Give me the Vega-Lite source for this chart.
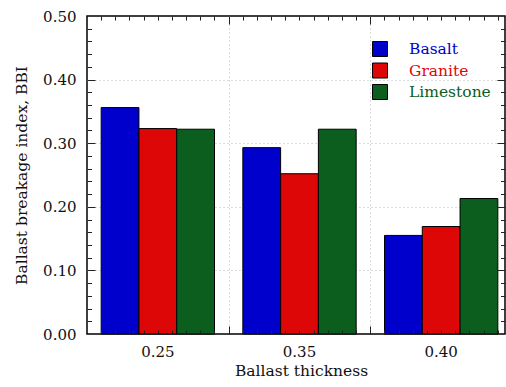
{
  "$schema": "https://vega.github.io/schema/vega-lite/v6.json",
  "width": 418,
  "height": 318,
  "autosize": "none",
  "padding": {"left": 87, "top": 16, "right": 1, "bottom": 53},
  "config": {
    "view": {"stroke": "#000", "strokeWidth": 1.5},
    "font": "DejaVu Serif, Liberation Serif, serif",
    "axis": {
      "labelFont": "DejaVu Serif, Liberation Serif, serif",
      "titleFont": "DejaVu Serif, Liberation Serif, serif",
      "labelColor": "#111",
      "titleColor": "#111",
      "titleFontWeight": "normal",
      "tickColor": "#222",
      "tickWidth": 1
    },
    "legend": {"labelFont": "DejaVu Serif, Liberation Serif, serif"}
  },
  "data": {
    "values": [
      {"t": "0.25", "m": "Basalt", "v": 0.356},
      {"t": "0.25", "m": "Granite", "v": 0.323},
      {"t": "0.25", "m": "Limestone", "v": 0.322},
      {"t": "0.35", "m": "Basalt", "v": 0.293},
      {"t": "0.35", "m": "Granite", "v": 0.252},
      {"t": "0.35", "m": "Limestone", "v": 0.322},
      {"t": "0.40", "m": "Basalt", "v": 0.155},
      {"t": "0.40", "m": "Granite", "v": 0.169},
      {"t": "0.40", "m": "Limestone", "v": 0.213}
    ]
  },
  "resolve": {
    "scale": {"x": "independent", "y": "shared"},
    "axis": {"x": "independent", "y": "independent"}
  },
  "layer": [
    {
      "mark": {"type": "bar", "stroke": "#000", "strokeWidth": 1},
      "encoding": {
        "x": {
          "field": "t", "type": "nominal",
          "scale": {"range": [0, 425], "paddingInner": 0, "paddingOuter": 0},
          "axis": {
            "orient": "bottom", "title": "Ballast thickness", "labelAngle": 0,
            "ticks": false, "domain": false, "grid": false,
            "labelFontSize": 15, "labelPadding": 10, "titleFontSize": 15.5,
            "titlePadding": 4, "titleX": 214
          }
        },
        "xOffset": {"field": "m", "type": "nominal", "scale": {"paddingInner": 0, "paddingOuter": 0.375}},
        "y": {
          "field": "v", "type": "quantitative",
          "scale": {"domain": [0, 0.5], "nice": false, "zero": true},
          "axis": {
            "orient": "left", "title": "Ballast breakage index, BBI",
            "values": [0, 0.1, 0.2, 0.3, 0.4, 0.5], "format": ".2f",
            "ticks": false, "domain": false, "grid": true,
            "gridColor": "#b8b8b8", "gridDash": [1, 3], "gridWidth": 1,
            "gridOpacity": {"condition": {"test": "datum.value > 0.001 && datum.value < 0.499", "value": 1}, "value": 0},
            "labelFontSize": 15, "labelPadding": 11, "titleFontSize": 15.5, "titlePadding": 13
          }
        },
        "color": {
          "field": "m", "type": "nominal",
          "scale": {"domain": ["Basalt", "Granite", "Limestone"], "range": ["#0000cc", "#dd0707", "#0b5e1d"]},
          "legend": {
            "title": null, "orient": "none", "legendX": 285, "legendY": 25, "padding": 0,
            "symbolType": "square", "symbolSize": 225, "symbolStrokeColor": "#000", "symbolStrokeWidth": 1,
            "symbolOpacity": 1, "labelFont": "DejaVu Serif, Liberation Serif, serif", "labelFontSize": 15.5, "labelOffset": 21,
            "rowPadding": 1.5, "labelColor": {"expr": "scale('color', datum.value)"}
          }
        }
      }
    },
    {
      "data": {"values": [{}]},
      "mark": {"type": "point", "opacity": 0},
      "encoding": {
        "x": {
          "datum": 0, "type": "quantitative",
          "scale": {"domain": [0, 2.9506], "nice": false, "zero": false},
          "axis": {"orient": "bottom", "title": null, "labels": false, "domain": false, "grid": false, "tickSize": -4, "zindex": 1,
            "values": [0.1,0.2,0.3,0.4,0.5,0.6,0.7,0.8,0.9,1.1,1.2,1.3,1.4,1.5,1.6,1.7,1.8,1.9,2.1,2.2,2.3,2.4,2.5,2.6,2.7,2.8,2.9]}
        },
        "y": {
          "datum": 0, "type": "quantitative",
          "scale": {"domain": [0, 0.5], "nice": false, "zero": true},
          "axis": {"orient": "left", "title": null, "labels": false, "domain": false, "grid": false, "tickSize": -8, "zindex": 1,
            "values": [0.1, 0.2, 0.3, 0.4]}
        }
      }
    },
    {
      "data": {"values": [{}]},
      "mark": {"type": "point", "opacity": 0},
      "encoding": {
        "x": {
          "datum": 0, "type": "quantitative",
          "scale": {"domain": [0, 2.9506], "nice": false, "zero": false},
          "axis": {"orient": "top", "title": null, "labels": false, "domain": false, "grid": false, "tickSize": -4, "zindex": 1,
            "values": [0.1,0.2,0.3,0.4,0.5,0.6,0.7,0.8,0.9,1.1,1.2,1.3,1.4,1.5,1.6,1.7,1.8,1.9,2.1,2.2,2.3,2.4,2.5,2.6,2.7,2.8,2.9]}
        },
        "y": {
          "datum": 0, "type": "quantitative",
          "scale": {"domain": [0, 0.5], "nice": false, "zero": true},
          "axis": {"orient": "left", "title": null, "labels": false, "domain": false, "grid": false, "tickSize": -4.5, "zindex": 1,
            "values": [0.02,0.04,0.06,0.08,0.12,0.14,0.16,0.18,0.22,0.24,0.26,0.28,0.32,0.34,0.36,0.38,0.42,0.44,0.46,0.48]}
        }
      }
    },
    {
      "data": {"values": [{}]},
      "mark": {"type": "point", "opacity": 0},
      "encoding": {
        "x": {
          "datum": 0, "type": "quantitative",
          "scale": {"domain": [0, 2.9506], "nice": false, "zero": false},
          "axis": {"orient": "bottom", "title": null, "labels": false, "domain": false, "grid": true,
            "gridColor": "#b8b8b8", "gridDash": [1, 3], "gridWidth": 1, "tickSize": -8, "zindex": 0,
            "values": [1, 2]}
        },
        "y": {
          "datum": 0, "type": "quantitative",
          "scale": {"domain": [0, 0.5], "nice": false, "zero": true},
          "axis": {"orient": "right", "title": null, "labels": false, "domain": false, "grid": false, "tickSize": -8, "zindex": 1,
            "values": [0.1, 0.2, 0.3, 0.4]}
        }
      }
    },
    {
      "data": {"values": [{}]},
      "mark": {"type": "point", "opacity": 0},
      "encoding": {
        "x": {
          "datum": 0, "type": "quantitative",
          "scale": {"domain": [0, 2.9506], "nice": false, "zero": false},
          "axis": {"orient": "top", "title": null, "labels": false, "domain": false, "grid": false, "tickSize": -8, "zindex": 1,
            "values": [1, 2]}
        },
        "y": {
          "datum": 0, "type": "quantitative",
          "scale": {"domain": [0, 0.5], "nice": false, "zero": true},
          "axis": {"orient": "right", "title": null, "labels": false, "domain": false, "grid": false, "tickSize": -4.5, "zindex": 1,
            "values": [0.02,0.04,0.06,0.08,0.12,0.14,0.16,0.18,0.22,0.24,0.26,0.28,0.32,0.34,0.36,0.38,0.42,0.44,0.46,0.48]}
        }
      }
    }
  ]
}
